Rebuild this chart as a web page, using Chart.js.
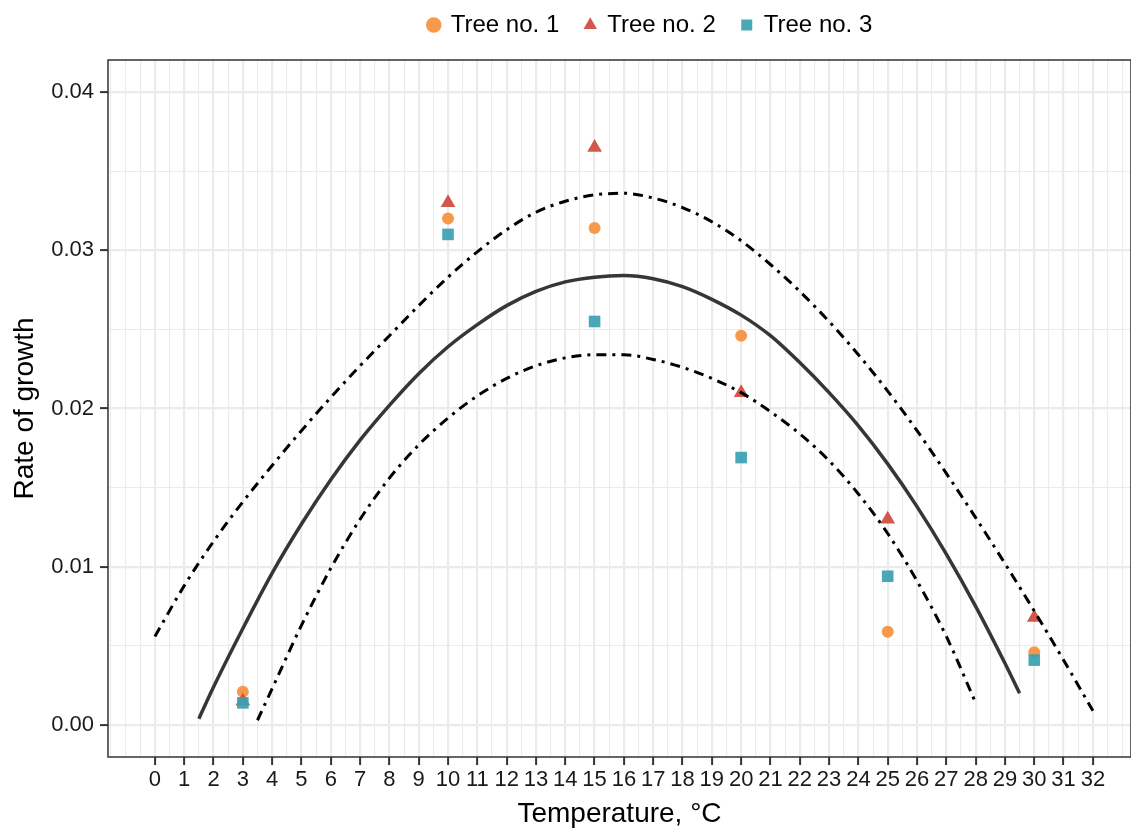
<!DOCTYPE html>
<html lang="en">
<head>
<meta charset="utf-8">
<title>Rate of growth</title>
<script src="https://cdn.jsdelivr.net/npm/chart.js@4.4.1/dist/chart.umd.min.js"></script>
<style>
  body { margin: 0; background: #fff; }
  canvas { display: block; }
</style>
</head>
<body>
<canvas id="graficoCrescimento" width="1131" height="833"></canvas>
<script>
// Medições por árvore
const temperaturas = [3, 10, 15, 20, 25, 30];
const arvore1 = [0.0021, 0.0320, 0.0314, 0.0246, 0.0059, 0.0046];
const arvore2 = [0.0015, 0.0330, 0.0365, 0.0210, 0.0130, 0.0068];
const arvore3 = [0.0014, 0.0310, 0.0255, 0.0169, 0.0094, 0.0041];
const nomesSeries = ["Tree no. 1", "Tree no. 2", "Tree no. 3"];

// Curva ajustada (linha cheia)
const tempAjuste = [1.5, 2, 3, 4, 5, 6, 7, 8, 9, 10, 11, 12, 13, 14, 15, 16, 17, 18, 19, 20, 21, 22, 23, 24, 25, 26, 27, 28, 29, 29.5];
const taxaAjuste = [0.0004, 0.0024, 0.0061, 0.0096, 0.0127, 0.0155, 0.0180, 0.0202, 0.0222, 0.0239, 0.0253, 0.0265, 0.0274, 0.0280, 0.0283,
  0.0284, 0.0282, 0.0277, 0.0269, 0.0259, 0.0246, 0.0229, 0.0210, 0.0189, 0.0165, 0.0138, 0.0108, 0.0075, 0.0039, 0.0020];

// Limite superior (traço-ponto)
const tempSuperior = [0, 1, 2, 3, 4, 5, 6, 7, 8, 9, 10, 11, 12, 13, 14, 15, 16, 17, 18, 19, 20, 21, 22, 23, 24, 25, 26, 27, 28, 29, 30, 31, 32];
const taxaSuperior = [0.0056, 0.0088, 0.0116, 0.0141, 0.0164, 0.0186, 0.0207, 0.0227, 0.0246, 0.0265, 0.0283, 0.0299, 0.0313, 0.0324, 0.0331, 0.0335,
  0.0336, 0.0333, 0.0327, 0.0318, 0.0306, 0.0291, 0.0274, 0.0255, 0.0234, 0.0211, 0.0186, 0.0159, 0.0131, 0.0102, 0.0072, 0.0041, 0.0009];

// Limite inferior (traço-ponto)
const tempInferior = [3.5, 4, 5, 6, 7, 8, 9, 10, 11, 12, 13, 14, 15, 16, 17, 18, 19, 20, 21, 22, 23, 24, 25, 26, 27, 28];
const taxaInferior = [0.0003, 0.0023, 0.0063, 0.0099, 0.0130, 0.0156, 0.0177, 0.0194, 0.0208, 0.0219, 0.0227, 0.0232, 0.0234,
  0.0234, 0.0231, 0.0226, 0.0219, 0.0210, 0.0198, 0.0184, 0.0167, 0.0146, 0.0121, 0.0091, 0.0056, 0.0014];

const fonte = "'Liberation Sans', Arial, sans-serif";
const pontos = (xs, ys) => xs.map((x, i) => ({ x, y: ys[i] }));

// Grade principal nos inteiros 0..32 e nos centésimos, secundária no resto
const principalX = v => Number.isInteger(v) && v >= 0 && v <= 32;
const principalY = v => Math.abs(v * 100 - Math.round(v * 100)) < 1e-6;

// Moldura do painel (estilo theme_bw)
const moldura = {
  id: "moldura",
  afterDraw(chart) {
    const { ctx, chartArea: a } = chart;
    ctx.save();
    ctx.strokeStyle = "#333333";
    ctx.lineWidth = 1.5;
    ctx.strokeRect(a.left, a.top, a.right - a.left, a.bottom - a.top);
    ctx.restore();
  }
};

// Legenda um pouco à direita e mais perto do topo
const deslocarLegenda = {
  id: "deslocarLegenda",
  afterLayout(chart) {
    const legenda = chart.legend;
    legenda.left += 85;
    legenda.right += 85;
    legenda.top -= 13;
    legenda.bottom -= 13;
  }
};

// Sem folga lateral reservada para rótulos
const semFolga = escala => {
  escala.paddingLeft = 0;
  escala.paddingRight = 0;
};

document.addEventListener("DOMContentLoaded", () => {
  new Chart(document.getElementById("graficoCrescimento"), {
    type: "scatter",
    data: {
      datasets: [
        {
          label: nomesSeries[0],
          data: pontos(temperaturas, arvore1),
          pointStyle: "circle",
          pointRadius: 6,
          backgroundColor: "rgba(246, 144, 61, 0.92)",
          borderWidth: 0,
          order: 3
        },
        {
          label: nomesSeries[1],
          data: pontos(temperaturas, arvore2),
          pointStyle: "triangle",
          pointRadius: 8.5,
          backgroundColor: "rgba(206, 74, 60, 0.92)",
          borderWidth: 0,
          order: 2
        },
        {
          label: nomesSeries[2],
          data: pontos(temperaturas, arvore3),
          pointStyle: "rect",
          pointRadius: 8.2,
          backgroundColor: "rgba(58, 160, 178, 0.92)",
          borderWidth: 0,
          order: 1
        },
        {
          label: "ajuste",
          data: pontos(tempAjuste, taxaAjuste),
          showLine: true,
          pointRadius: 0,
          borderColor: "#363636",
          borderWidth: 3.5,
          cubicInterpolationMode: "monotone",
          order: 0
        },
        {
          label: "superior",
          data: pontos(tempSuperior, taxaSuperior),
          showLine: true,
          pointRadius: 0,
          borderColor: "#000000",
          borderWidth: 3,
          borderDash: [10, 6, 3, 6],
          borderCapStyle: "butt",
          cubicInterpolationMode: "monotone",
          order: 0
        },
        {
          label: "inferior",
          data: pontos(tempInferior, taxaInferior),
          showLine: true,
          pointRadius: 0,
          borderColor: "#000000",
          borderWidth: 3,
          borderDash: [10, 6, 3, 6],
          borderCapStyle: "butt",
          cubicInterpolationMode: "monotone",
          order: 0
        }
      ]
    },
    options: {
      responsive: false,
      animation: false,
      layout: { padding: 0, autoPadding: false },
      plugins: {
        legend: {
          position: "top",
          maxHeight: 60,
          labels: {
            usePointStyle: true,
            boxWidth: 10,
            boxHeight: 11,
            padding: 26,
            color: "#000000",
            font: { family: fonte, size: 24 },
            filter: item => item.datasetIndex < 3,
            sort: (a, b) => a.datasetIndex - b.datasetIndex
          }
        },
        tooltip: { enabled: false }
      },
      scales: {
        x: {
          type: "linear",
          min: -1.6,
          max: 33.3,
          border: { display: false },
          grid: {
            color: "#EBEBEB",
            lineWidth: ctx => principalX(ctx.tick.value) ? 2.2 : 1.1,
            tickColor: ctx => principalX(ctx.tick.value) ? "#333333" : "transparent",
            tickLength: 8,
            tickWidth: 2
          },
          ticks: {
            stepSize: 0.5,
            includeBounds: false,
            autoSkip: false,
            maxRotation: 0,
            padding: 2,
            color: "#1a1a1a",
            font: { family: fonte, size: 22 },
            callback: v => principalX(v) ? String(v) : ""
          },
          title: {
            display: true,
            text: "Temperature, °C",
            color: "#000000",
            font: { family: fonte, size: 28 },
            padding: { top: 0, bottom: 2 }
          },
          afterFit: escala => {
            escala.height = 76;
            semFolga(escala);
          }
        },
        y: {
          type: "linear",
          min: -0.002022,
          max: 0.042022,
          border: { display: false },
          grid: {
            color: "#EBEBEB",
            lineWidth: ctx => principalY(ctx.tick.value) ? 2.2 : 1.1,
            tickColor: ctx => principalY(ctx.tick.value) ? "#333333" : "transparent",
            tickLength: 8,
            tickWidth: 2
          },
          ticks: {
            stepSize: 0.005,
            includeBounds: false,
            autoSkip: false,
            padding: 6,
            color: "#1a1a1a",
            font: { family: fonte, size: 22 },
            callback: v => principalY(v) ? v.toFixed(2) : ""
          },
          title: {
            display: true,
            text: "Rate of growth",
            color: "#000000",
            font: { family: fonte, size: 28 },
            padding: { top: 8, bottom: 0 }
          },
          afterFit: escala => {
            escala.width = 108;
            semFolga(escala);
          }
        }
      }
    },
    plugins: [moldura, deslocarLegenda]
  });
});
</script>
</body>
</html>
